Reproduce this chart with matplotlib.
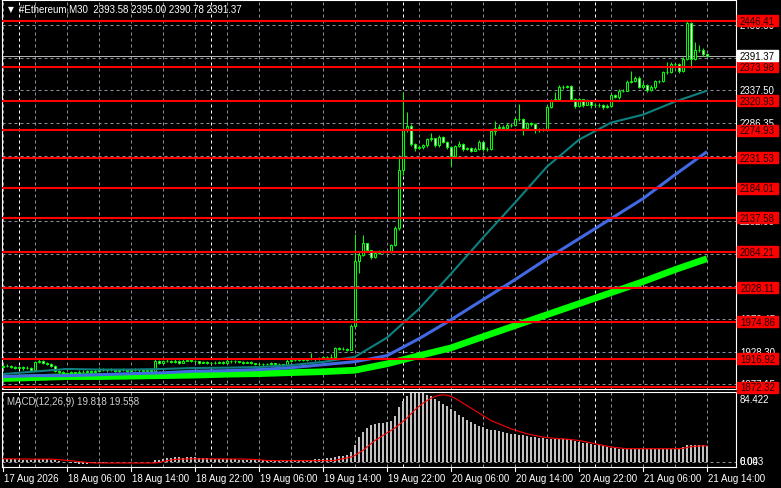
import numpy as np
import matplotlib
matplotlib.use("Agg")
import matplotlib.pyplot as plt
from matplotlib.patches import Rectangle

plt.rcParams['font.family'] = ['Liberation Sans', 'DejaVu Sans']

# ---- data (M30 bars) ----
closes = [1905, 1906, 1904, 1903, 1904, 1902, 1903, 1900, 1912, 1913,
          1911, 1909, 1906, 1898, 1896, 1894, 1895, 1896, 1895, 1896,
          1897, 1898, 1897, 1898, 1899, 1900, 1899, 1900, 1898, 1899,
          1900, 1898, 1899, 1900, 1899, 1898, 1899, 1898, 1913, 1911,
          1913, 1914, 1912, 1914, 1911, 1914, 1915, 1914, 1913, 1911,
          1912, 1911, 1910, 1911, 1912, 1911, 1914, 1913, 1913, 1912,
          1911, 1912, 1910, 1909, 1909, 1908, 1909, 1910, 1909, 1908,
          1907, 1914, 1915, 1915, 1916, 1915, 1916, 1917, 1916, 1918,
          1920, 1919, 1920, 1934, 1932, 1933, 1931, 1969, 2070, 2080,
          2098, 2087, 2076, 2083, 2085, 2084, 2086, 2095, 2121, 2212,
          2277, 2282, 2253, 2247, 2248, 2251, 2261, 2262, 2251, 2265,
          2257, 2249, 2235, 2250, 2254, 2246, 2247, 2243, 2246, 2257,
          2246, 2246, 2274, 2279, 2280, 2278, 2283, 2283, 2293, 2293,
          2279, 2286, 2285, 2277, 2275, 2276, 2312, 2321, 2323, 2343,
          2343, 2344, 2324, 2313, 2323, 2315, 2321, 2314, 2315, 2315,
          2311, 2313, 2330, 2327, 2337, 2337, 2351, 2352, 2357, 2343,
          2346, 2338, 2343, 2352, 2352, 2366, 2366, 2379, 2378, 2368,
          2387, 2443, 2387, 2401, 2401, 2394, 2391.37]
first_open = 1904
highs = [1907, 1908, 1907, 1906, 1906, 1905, 1905, 1904, 1914, 1916,
         1915, 1912, 1910, 1907, 1900, 1898, 1897, 1898, 1897, 1899,
         1899, 1900, 1899, 1901, 1904, 1902, 1901, 1902, 1901, 1901,
         1902, 1901, 1901, 1903, 1901, 1900, 1901, 1900, 1918, 1915,
         1915, 1916, 1915, 1916, 1915, 1916, 1917, 1916, 1915, 1914,
         1914, 1913, 1912, 1913, 1914, 1913, 1916, 1915, 1915, 1914,
         1913, 1914, 1913, 1911, 1911, 1910, 1911, 1912, 1911, 1910,
         1909, 1916, 1917, 1917, 1918, 1917, 1918, 1926, 1918, 1920,
         1922, 1921, 1924, 1936, 1935, 1935, 1934, 1972, 2113, 2084,
         2110, 2099, 2088, 2086, 2088, 2087, 2088, 2097, 2125, 2236,
         2335, 2304, 2285, 2255, 2251, 2254, 2263, 2270, 2263, 2268,
         2266, 2258, 2250, 2252, 2258, 2255, 2249, 2248, 2249, 2259,
         2258, 2249, 2276, 2289, 2285, 2283, 2286, 2286, 2296, 2316,
         2294, 2288, 2288, 2286, 2278, 2278, 2314, 2323, 2335, 2346,
         2346, 2346, 2345, 2326, 2325, 2324, 2323, 2322, 2318, 2317,
         2316, 2316, 2332, 2331, 2339, 2339, 2353, 2368, 2359, 2359,
         2350, 2347, 2345, 2354, 2354, 2368, 2382, 2381, 2380, 2380,
         2389, 2446, 2445, 2413, 2408, 2403, 2395]
lows = [1902, 1904, 1903, 1901, 1902, 1900, 1901, 1898, 1899, 1910,
        1909, 1907, 1904, 1896, 1894, 1892, 1892, 1893, 1893, 1894,
        1895, 1896, 1895, 1896, 1897, 1898, 1897, 1898, 1896, 1897,
        1898, 1896, 1897, 1898, 1897, 1896, 1897, 1896, 1897, 1909,
        1910, 1912, 1910, 1911, 1909, 1910, 1913, 1912, 1911, 1909,
        1910, 1909, 1908, 1909, 1910, 1909, 1910, 1911, 1911, 1910,
        1909, 1910, 1908, 1907, 1907, 1906, 1907, 1908, 1907, 1906,
        1905, 1906, 1913, 1913, 1914, 1913, 1914, 1915, 1914, 1915,
        1917, 1917, 1918, 1919, 1930, 1930, 1929, 1930, 1966, 2052,
        2078, 2085, 2073, 2074, 2081, 2082, 2083, 2083, 2093, 2119,
        2205, 2272, 2250, 2242, 2245, 2246, 2249, 2258, 2248, 2249,
        2255, 2246, 2219, 2233, 2248, 2243, 2244, 2240, 2242, 2244,
        2243, 2243, 2244, 2268, 2276, 2275, 2276, 2280, 2281, 2290,
        2267, 2277, 2282, 2270, 2272, 2273, 2274, 2310, 2320, 2321,
        2340, 2341, 2321, 2310, 2311, 2312, 2314, 2310, 2312, 2312,
        2308, 2309, 2311, 2325, 2324, 2335, 2336, 2349, 2350, 2341,
        2341, 2335, 2337, 2340, 2349, 2350, 2363, 2364, 2372, 2365,
        2366, 2385, 2373, 2385, 2398, 2391, 2390.78]

# moving averages, sampled every 8 bars
ma_idx = list(range(0, 177, 8))
ma_teal = [1893, 1897, 1901, 1900, 1900, 1901, 1902.5, 1903, 1904, 1907, 1912, 1920,
           1950, 1995, 2050, 2106.6, 2161.4, 2217.8, 2260, 2286.7, 2299.2, 2319.6, 2336.8]
ma_blue = [1889, 1890.5, 1890.5, 1892, 1893.6, 1895, 1897.5, 1898.3, 1900, 1903, 1907.7, 1912.4,
           1921.8, 1948.4, 1978, 2009.5, 2040.8, 2073.7, 2105, 2136.3, 2167.7, 2205.2, 2241.3]
ma_green = [1886, 1887.4, 1889, 1889, 1889.7, 1890.5, 1891.3, 1892.8, 1893.6, 1895.2, 1896.7, 1899,
            1909, 1921.8, 1934, 1951.5, 1968.8, 1986, 2003.2, 2020.4, 2037.7, 2056.5, 2073.7]

macd_hist = [4, 4, 3.5, 3.5, 3, 3, 3, 2.5, 3.5, 4,
             4, 3.5, 3, 2, 1.5, 0.5, -0.5, -1, -1.5, -2,
             -2, -2, -1.5, -1.5, -1, -1, -0.5, -0.5, 0, 0,
             0.5, 0.5, 0.5, 0.5, 0.5, 0, 0, 0, 2, 3,
             4, 4.5, 5, 5.5, 5.5, 5, 6, 6, 5.5, 5,
             5, 4.5, 4, 4, 4, 4, 3.5, 3.5, 3.5, 3,
             3, 3, 2.5, 2.5, 2, 2, 2, 1.5, 1.5, 1.5,
             1, 1.5, 2, 2, 2.5, 2.5, 3, 3, 3.5, 3.5,
             4, 4.5, 5, 6, 7, 7.5, 8, 12, 20, 30,
             36, 41, 44.5, 46, 46.5, 46.5, 48, 50, 56, 66,
             74, 80, 83, 84.4, 84, 83, 81, 79, 76, 73,
             70, 67, 64, 61, 57, 54, 51, 48, 46, 44,
             42, 40, 39, 38, 37, 36, 35, 34, 33.5, 33,
             32, 31, 30.5, 30, 29, 28.5, 28, 27.5, 27.5, 28,
             28, 27.5, 27, 25, 24, 23, 23, 22, 21, 20,
             19, 18, 17, 16.5, 16, 16, 15.5, 15.5, 15.5, 15.5,
             15.5, 15.5, 15.5, 15.5, 15.5, 15.5, 15.5, 15.5, 16, 16,
             18, 21, 21, 21, 20.5, 20, 19.818]
macd_signal = [3.8, 3.8, 3.8, 3.7, 3.7, 3.6, 3.5, 3.4, 3.4, 3.4,
               3.5, 3.5, 3.5, 3.2, 2.8, 2.4, 2, 1.5, 1, 0.5,
               0, -0.5, -1, -1.2, -1.2, -1.2, -1.2, -1.2, -1.2, -1.2,
               -1.2, -1.2, -1.2, -1.2, -1.2, -1.2, -1.2, -1.2, -1.2, -0.5,
               0.5, 1.5, 2.5, 3, 3.5, 3.6, 3.8, 3.8, 3.8, 3.8,
               3.8, 3.8, 3.8, 3.7, 3.7, 3.7, 3.6, 3.6, 3.6, 3.5,
               3.5, 3.4, 3.2, 3, 2.6, 2.2, 1.8, 1.7, 1.6, 1.6,
               1.6, 1.6, 1.6, 1.6, 1.6, 1.6, 1.6, 1.6, 1.6, 1.6,
               1.6, 1.6, 1.6, 2, 3, 4, 5, 6, 8, 11,
               14, 18, 22, 26, 29, 32, 35, 38, 41, 45,
               49, 53, 58, 63, 67, 71, 74, 77, 79, 80.5,
               81, 80.5, 79, 77, 74, 71, 68, 65, 62, 59,
               56, 53, 50, 48, 46, 44, 42, 40, 38.5, 37,
               35.5, 34, 33, 32, 31, 30, 29.5, 29, 28.5, 28,
               28, 27.5, 27, 26.5, 26, 25, 24, 23, 22, 21,
               20, 19, 18, 17.5, 17, 16.5, 16, 16, 16, 16,
               16, 16, 16, 16, 16, 16, 16, 16, 16, 16,
               16.5, 17.5, 18.5, 19, 19.3, 19.5, 19.558]

level_prices = [2446.41, 2373.98, 2320.93, 2274.93, 2231.53, 2184.01,
                2137.58, 2084.21, 2028.11, 1974.86, 1916.92, 1872.32]
grid_prices = [2439.80, 2388.65, 2337.50, 2286.35, 2235.20, 2184.05,
               2132.90, 2081.75, 2030.60, 1979.45, 1928.30, 1877.15]
last_price = 2391.37
time_ticks = [0, 16, 32, 48, 64, 80, 96, 112, 128, 144, 160, 176]
time_labels = ["17 Aug 2026", "18 Aug 06:00", "18 Aug 14:00", "18 Aug 22:00",
               "19 Aug 06:00", "19 Aug 14:00", "19 Aug 22:00", "20 Aug 06:00",
               "20 Aug 14:00", "20 Aug 22:00", "21 Aug 06:00", "21 Aug 14:00"]
day_breaks = [4, 52, 100, 148]
title = "#Ethereum,M30  2393.58 2395.00 2390.78 2391.37"
macd_title = "MACD(12,26,9) 19.818 19.558"

# ---- layout (pixels) ----
W, H = 781, 489
P_L, P_R, P_T, P_B = 2, 736, 1, 390
M_T, M_B = 393, 468
p_top, p_bot = 2478.8, 1869.6
m_top, m_bot = 84.422, -6.043

def fr(l, t, r, b):
    return [l / W, 1 - b / H, (r - l) / W, (b - t) / H]

def py(p):
    return P_T + (p_top - p) / (p_top - p_bot) * (P_B - P_T)

GRID = '#8a8f99'
LIME = '#00ff00'
n = len(closes)
x = np.arange(n)
opens = [first_open] + closes[:-1]

fig = plt.figure(figsize=(W / 100, H / 100), dpi=100, facecolor='black')
ax = fig.add_axes(fr(P_L, P_T, P_R, P_B))
axm = fig.add_axes(fr(P_L, M_T, P_R, M_B))

for a in (ax, axm):
    a.set_facecolor('black')
    a.set_xlim((P_L - 3) / 4, (P_R - 3) / 4)
    a.set_xticks([])
    a.set_yticks([])
    for s in a.spines.values():
        s.set_color('white')
        s.set_linewidth(0.8)
    for t in range(0, n, 8):
        a.axvline(t, color=GRID, lw=0.72, ls=(0, (3, 3)), zorder=0)
    for d in day_breaks:
        a.axvline(d, color='white', lw=0.72, ls=(0, (3, 3)), zorder=0.5)

ax.set_ylim(p_bot, p_top)
for g in grid_prices:
    ax.axhline(g, color=GRID, lw=0.72, ls=(0, (3, 3)), zorder=0)
ax.axhline(last_price, color='#b0b0b0', lw=0.72, zorder=0.6)

# candles
ax.vlines(x, lows, highs, color=LIME, lw=0.72, zorder=2)
o = np.array(opens, float)
c = np.array(closes, float)
bottom = np.minimum(o, c)
height = np.maximum(np.abs(c - o), 0.01)
face = ['black' if cc >= oo else 'white' for oo, cc in zip(o, c)]
ax.bar(x, height, bottom=bottom, width=0.5, color=face, edgecolor=LIME,
       linewidth=0.72, zorder=3)

# moving averages
ax.plot(ma_idx, ma_green, color='#00ff00', lw=4.8, zorder=4, solid_capstyle='butt')
ax.plot(ma_idx, ma_blue, color='#4169e1', lw=2.2, zorder=4.2, solid_capstyle='butt')
ax.plot(ma_idx, ma_teal, color='#0f8080', lw=1.5, zorder=4.4, solid_capstyle='butt')

# horizontal levels
for lv in level_prices:
    ax.axhline(lv, color='#ff0000', lw=1.5, zorder=5)

# MACD panel
axm.set_ylim(m_bot, m_top)
axm.axhline(0, color=GRID, lw=0.72, ls=(0, (3, 3)), zorder=0)
axm.bar(x, macd_hist, width=0.7, color='#c0c0c0', zorder=2)
axm.plot(x, macd_signal, color='#ff0000', lw=0.8, zorder=3)

# overlay for labels
ov = fig.add_axes([0, 0, 1, 1])
ov.set_xlim(0, W)
ov.set_ylim(H, 0)
ov.axis('off')

fs = 7
for g in grid_prices:
    ov.text(740, py(g), "%.2f" % g, color='white', fontsize=fs, va='center',
            ha='left', zorder=1)
for lv in level_prices:
    yy = py(lv)
    ov.add_patch(Rectangle((737, yy - 5.5), 41, 11, color='#ff0000', zorder=5))
    ov.text(757.5, yy, "%.2f" % lv, color='#200000', fontsize=fs, va='center',
            ha='center', zorder=6)
yy = py(last_price)
ov.add_patch(Rectangle((737, yy - 5.5), 41, 11, color='white', zorder=5))
ov.text(757.5, yy, "%.2f" % last_price, color='black', fontsize=fs, va='center',
        ha='center', zorder=6)

ov.text(740, 400, "84.422", color='white', fontsize=fs, va='center', ha='left')
ov.text(740, 462, "0.00", color='white', fontsize=fs, va='center', ha='left')
ov.text(740, 462, "6.043", color='white', fontsize=fs, va='center', ha='left')

for t, lab in zip(time_ticks, time_labels):
    px = 3 + 4 * t
    ov.plot([px, px], [468, 472], color='white', lw=0.8)
    ov.text(px + 1, 479, lab, color='white', fontsize=fs, va='center', ha='left')

ov.text(8, 9.5, "\u25bc", color='white', fontsize=5.5, va='center', ha='left',
        family='DejaVu Sans')
ov.text(19, 9.5, title, color='white', fontsize=fs, va='center', ha='left')
ov.text(7, 402, macd_title, color='#d0d0d0', fontsize=fs, va='center', ha='left')

fig.savefig('out.png', dpi=100, facecolor='black')
